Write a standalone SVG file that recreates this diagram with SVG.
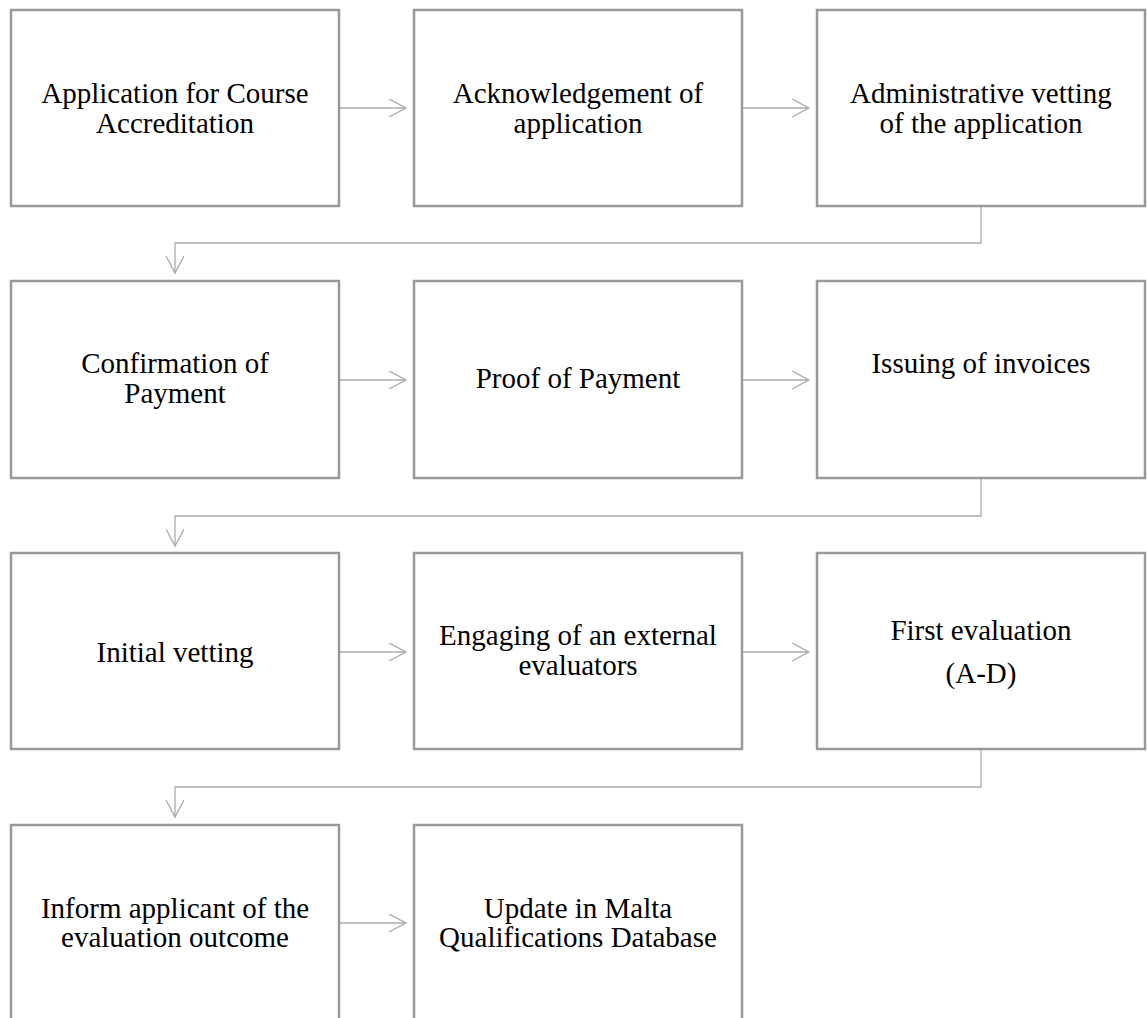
<svg xmlns="http://www.w3.org/2000/svg" width="1147" height="1018" viewBox="0 0 1147 1018">
<style>
.box{fill:#ffffff;stroke:#999999;stroke-width:2.5}
.t{font-family:"Liberation Serif","Times New Roman",serif;font-size:29px;fill:#000000;text-anchor:middle}
.c{fill:none;stroke:#ababab;stroke-width:1.3}
</style>
<defs>
<marker id="arr" markerWidth="20" markerHeight="20" refX="17" refY="9" orient="auto" markerUnits="userSpaceOnUse">
<path d="M0,0 L17,9 L0,18" fill="none" stroke="#ababab" stroke-width="1.3"/>
</marker>
</defs>
<rect width="1147" height="1018" fill="#ffffff"/>
<g id="connectors">
<line class="c" x1="339" y1="108" x2="406" y2="108" marker-end="url(#arr)"/>
<line class="c" x1="742" y1="108" x2="809" y2="108" marker-end="url(#arr)"/>
<polyline class="c" points="981,206 981,243 175,243 175,273" marker-end="url(#arr)"/>
<line class="c" x1="339" y1="380" x2="406" y2="380" marker-end="url(#arr)"/>
<line class="c" x1="742" y1="380" x2="809" y2="380" marker-end="url(#arr)"/>
<polyline class="c" points="981,478 981,516 175,516 175,546" marker-end="url(#arr)"/>
<line class="c" x1="339" y1="652" x2="406" y2="652" marker-end="url(#arr)"/>
<line class="c" x1="742" y1="652" x2="809" y2="652" marker-end="url(#arr)"/>
<polyline class="c" points="981,749 981,787 175,787 175,817" marker-end="url(#arr)"/>
<line class="c" x1="339" y1="923" x2="406" y2="923" marker-end="url(#arr)"/>
</g>
<g id="n1"><rect class="box" x="11" y="10" width="328" height="196"/><text class="t" x="175" y="103">Application for Course</text><text class="t" x="175" y="133">Accreditation</text></g>
<g id="n2"><rect class="box" x="414" y="10" width="328" height="196"/><text class="t" x="578" y="103">Acknowledgement of</text><text class="t" x="578" y="133">application</text></g>
<g id="n3"><rect class="box" x="817" y="10" width="328" height="196"/><text class="t" x="981" y="103">Administrative vetting</text><text class="t" x="981" y="133">of the application</text></g>
<g id="n4"><rect class="box" x="11" y="281" width="328" height="197"/><text class="t" x="175" y="373">Confirmation of</text><text class="t" x="175" y="403">Payment</text></g>
<g id="n5"><rect class="box" x="414" y="281" width="328" height="197"/><text class="t" x="578" y="388">Proof of Payment</text></g>
<g id="n6"><rect class="box" x="817" y="281" width="328" height="197"/><text class="t" x="981" y="373">Issuing of invoices</text></g>
<g id="n7"><rect class="box" x="11" y="553" width="328" height="196"/><text class="t" x="175" y="662">Initial vetting</text></g>
<g id="n8"><rect class="box" x="414" y="553" width="328" height="196"/><text class="t" x="578" y="645">Engaging of an external</text><text class="t" x="578" y="675">evaluators</text></g>
<g id="n9"><rect class="box" x="817" y="553" width="328" height="196"/><text class="t" x="981" y="640">First evaluation</text><text class="t" x="981" y="683">(A-D)</text></g>
<g id="n10"><rect class="box" x="11" y="825" width="328" height="200"/><text class="t" x="175" y="918">Inform applicant of the</text><text class="t" x="175" y="947">evaluation outcome</text></g>
<g id="n11"><rect class="box" x="414" y="825" width="328" height="200"/><text class="t" x="578" y="918">Update in Malta</text><text class="t" x="578" y="947">Qualifications Database</text></g>
</svg>
